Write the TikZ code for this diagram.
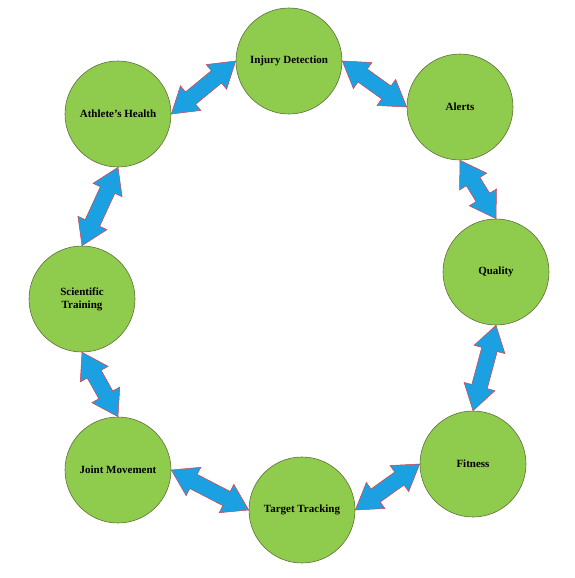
\documentclass[tikz,border=0pt]{standalone}
\usepackage{fontspec}
\setmainfont{Liberation Serif}
\definecolor{leafgreen}{RGB}{143, 203, 76}
\definecolor{leafedge}{RGB}{96, 110, 62}
\definecolor{skyblue}{RGB}{27, 161, 226}
\definecolor{edgered}{RGB}{222, 62, 70}
\usetikzlibrary{calc}

\tikzset{
    topic/.style={circle, minimum size=106pt, inner sep=0pt, align=center,
        fill=leafgreen, draw=leafedge, line width=0.6pt},
    linkarrow/.style={fill=skyblue, draw=edgered, line width=0.5pt, line join=miter}
}

% block double arrow between two anchors
\newcommand{\twoway}[2]{%
    \coordinate (ha) at ($(#1)!25pt!(#2)$);
    \coordinate (hb) at ($(#2)!25pt!(#1)$);
    \draw[linkarrow] (#1) -- ($(ha)!16pt!90:(#2)$) -- ($(ha)!8pt!90:(#2)$)
        -- ($(hb)!8pt!-90:(#1)$) -- ($(hb)!16pt!-90:(#1)$) -- (#2)
        -- ($(hb)!16pt!90:(#1)$) -- ($(hb)!8pt!90:(#1)$)
        -- ($(ha)!8pt!-90:(#2)$) -- ($(ha)!16pt!-90:(#2)$) -- cycle;
}

\begin{document}
\begin{tikzpicture}[x=1pt, y=-1pt, font=\fontsize{11}{13}\selectfont\bfseries]
    \useasboundingbox (0,0) rectangle (574,578);
    % Circles
    \node[topic] (injury) at (289, 61) {Injury Detection};
    \node[topic] (alerts) at (460, 107) {Alerts};
    \node[topic] (quality) at (496, 272) {Quality};
    \node[topic] (fitness) at (473, 464) {Fitness};
    \node[topic] (target) at (302, 510) {Target Tracking};
    \node[topic] (joint) at (118, 470) {Joint Movement};
    \node[topic] (science) at (82, 299) {Scientific\\Training};
    \node[topic] (health) at (118, 114) {Athlete’s Health};
    % Arrows
    \twoway{health.east}{injury.west}
    \twoway{injury.east}{alerts.west}
    \twoway{alerts.south}{quality.north}
    \twoway{quality.south}{fitness.north}
    \twoway{fitness.west}{target.east}
    \twoway{target.west}{joint.east}
    \twoway{joint.north}{science.south}
    \twoway{science.north}{health.south}
\end{tikzpicture}
\end{document}
